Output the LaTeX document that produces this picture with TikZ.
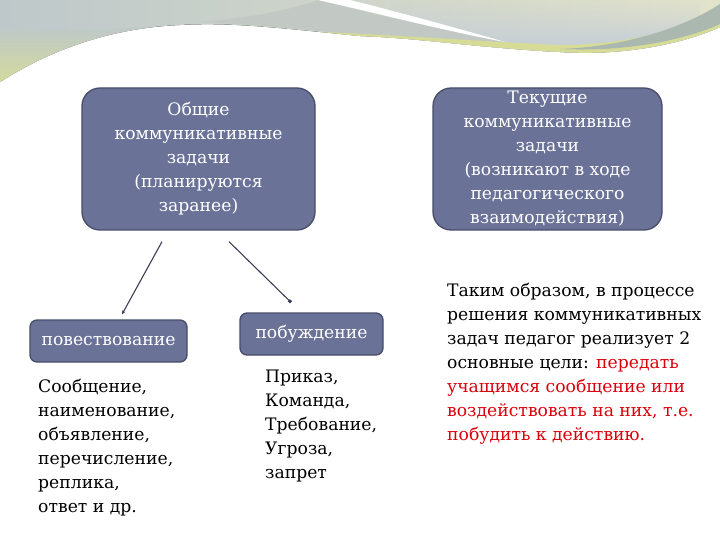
\documentclass[tikz,border=0pt]{standalone}
\usepackage{fontspec}
\setmainfont{DejaVu Serif}
\usetikzlibrary{arrows.meta,fadings}
\definecolor{boxfill}{RGB}{107,114,152}
\definecolor{boxline}{RGB}{72,77,106}
\definecolor{connline}{RGB}{60,63,85}
\definecolor{redtext}{RGB}{218,0,10}
\definecolor{bgleft}{RGB}{190,200,202}
\definecolor{bgright}{RGB}{226,227,203}
\definecolor{bluegray}{RGB}{196,205,216}
\definecolor{graymid}{RGB}{194,201,196}
\definecolor{yg}{RGB}{214,220,150}
\definecolor{graygreen}{RGB}{170,184,176}
\tikzset{
  bigbox/.style={draw=boxline, line width=1.3pt, fill=boxfill, rounded corners=18pt,
    text=white, align=center, inner sep=0pt, font=\fontsize{17.2}{24}\selectfont},
  smallbox/.style={draw=boxline, line width=1.3pt, fill=boxfill, rounded corners=7pt,
    text=white, align=center, inner sep=0pt, font=\fontsize{17.2}{24}\selectfont},
  plaintext/.style={align=left, inner sep=0pt, anchor=west, font=\fontsize{17.2}{24}\selectfont},
  conn/.style={draw=connline, line width=1.1pt}
}
\begin{document}
\begin{tikzpicture}[x=1pt,y=-1pt]
\useasboundingbox (0,0) rectangle (720,540);
\fill[white] (0,0) rectangle (720,540);
% top decoration
\begin{scope}
\clip (0,0) -- (720,0) -- (720,27) .. controls (680,45) and (620,56) .. (560,52)
  .. controls (480,48) and (420,38) .. (360,36) .. controls (280,28) and (230,22) .. (180,25)
  .. controls (110,28) and (50,50) .. (0,82) -- cycle;
\fill[left color=bgleft, right color=bgright] (0,0) rectangle (720,90);
\shade[top color=bgleft, bottom color=yg] (0,25) .. controls (40,30) and (90,32) .. (150,26) -- (150,90) -- (0,90) -- cycle;
\fill[bluegray, path fading=north] (390,0) rectangle (700,52);
\fill[graymid] (318,0) .. controls (380,15) and (450,32) .. (505,42) -- (505,55)
  .. controls (420,45) and (330,28) .. (200,22) .. controls (250,18) and (290,10) .. (318,0) -- cycle;
\fill[yg] (240,30) .. controls (330,30) and (450,40) .. (560,45) .. controls (630,45) and (680,28) .. (720,15) -- (720,60) -- (240,60) -- cycle;
\fill[graygreen] (560,49) .. controls (620,47) and (680,30) .. (720,4) -- (720,24) .. controls (680,42) and (620,52) .. (560,49) -- cycle;
\fill[white] (318,0) .. controls (380,14) and (450,32) .. (505,42) .. controls (450,26) and (390,10) .. (350,0) -- cycle;
\end{scope}
% boxes
\node[bigbox, minimum width=233pt, minimum height=142pt] (b1) at (198.5,159)
  {Общие\\коммуникативные\\задачи\\(планируются\\заранее)};
\node[bigbox, minimum width=229pt, minimum height=142pt] (b2) at (547.5,159)
  {Текущие\\коммуникативные\\задачи\\(возникают в ходе\\педагогического\\взаимодействия)};
\node[smallbox, minimum width=157pt, minimum height=42pt] (p1) at (108.5,341) {повествование};
\node[smallbox, minimum width=143pt, minimum height=42pt] (p2) at (311.5,334) {побуждение};
% connectors
\draw[conn, -{Stealth[length=4pt,width=3.5pt]}] ([xshift=-36.5pt,yshift=-11pt]b1.south) -- ([xshift=13.5pt,yshift=5pt]p1.north);
\draw[conn, -{Square[length=3pt,width=3pt]}] ([xshift=30.5pt,yshift=-11pt]b1.south) -- ([xshift=-20.5pt,yshift=10pt]p2.north);
% lists
\node[plaintext] (l1) at (38,447.5) {Сообщение,\\наименование,\\объявление,\\перечисление,\\реплика,\\ответ и др.};
\node[plaintext] (l2) at (265,426) {Приказ,\\Команда,\\Требование,\\Угроза,\\запрет};
\node[plaintext] (rt) at (447,364) {Таким образом, в процессе\\решения коммуникативных\\задач педагог реализует 2\\основные цели: \textcolor{redtext}{передать}\\\textcolor{redtext}{учащимся сообщение или}\\\textcolor{redtext}{воздействовать на них, т.е.}\\\textcolor{redtext}{побудить к действию.}};
\end{tikzpicture}
\end{document}
